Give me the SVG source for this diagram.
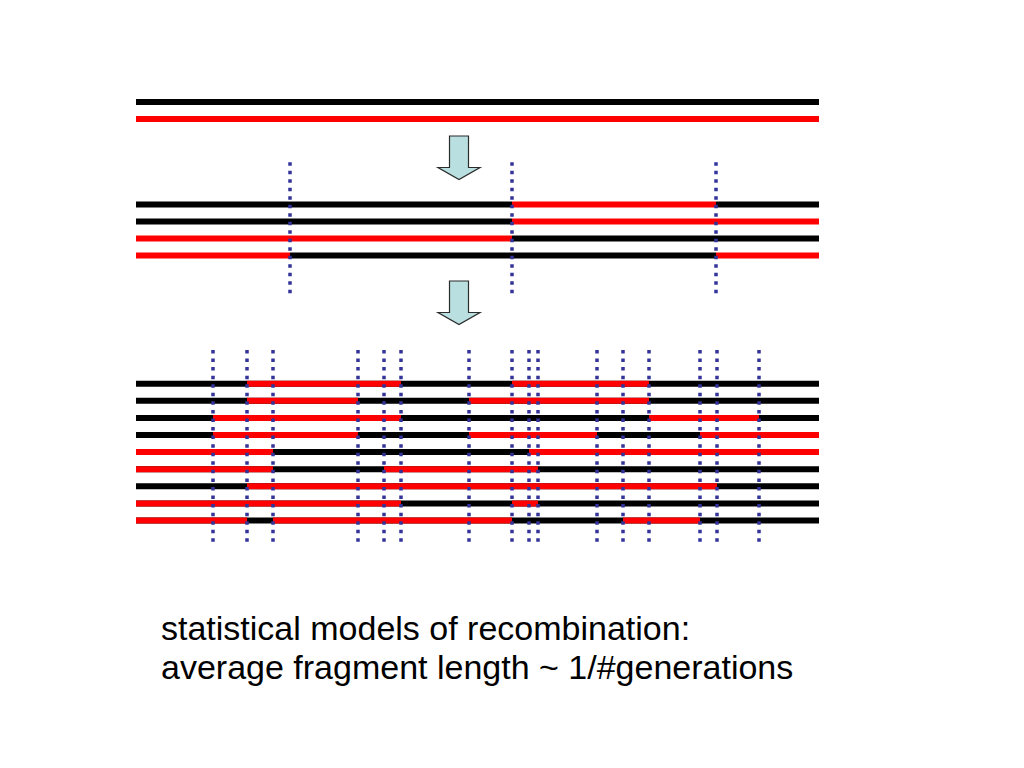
<svg xmlns="http://www.w3.org/2000/svg" width="1024" height="768" viewBox="0 0 1024 768">
<style>
.b{stroke:#000;stroke-width:6;fill:none}
.r{stroke:#f00;stroke-width:6;fill:none}
.d{stroke:#333399;stroke-width:3.5;stroke-dasharray:3.5 5;fill:none}
.d2{stroke:#333399;stroke-width:3.5;stroke-dasharray:3.5 5.06;fill:none}
.arrow{fill:#b9dfe0;stroke:#2b2b2b;stroke-width:1.2}
.t{font-family:"Liberation Sans",Arial,sans-serif;font-size:34px;fill:#000}
</style>
<rect width="1024" height="768" fill="#fff"/>
<g id="parents">
<path class="b" d="M136,102H819"/>
<path class="r" d="M136,119H819"/>
</g>
<g id="connectors">
<path id="arrow1" class="arrow" d="M449.5,136H468.5V167.5H480L459,179.5L438,167.5H449.5Z"/>
<path id="arrow2" class="arrow" d="M449.5,281H468.5V312.5H480L459,324.5L438,312.5H449.5Z"/>
</g>
<g id="generation1">
<path class="b" d="M136,204.5H512M716,204.5H819M136,221.5H512M512,238.5H819M290,255.5H716"/>
<path class="r" d="M512,204.5H716M512,221.5H819M136,238.5H512M136,255.5H290M716,255.5H819"/>
<path class="d" d="M290,162.3V294M512,162.3V294M716,162.3V294"/>
</g>
<g id="generationN">
<path class="b" d="M136,383.7H819M136,400.8H819M136,417.9H819M136,435H819M136,452.1H819M136,469.2H819M136,486.3H819M136,503.4H819M136,520.5H819"/>
<path class="r" d="M247,383.7H401M512,383.7H649
M247,400.8H358M469,400.8H649
M213,417.9H401M649,417.9H759
M213,435H358M469,435H597M700,435H819
M136,452.1H273M529,452.1H819
M136,469.2H273M384,469.2H538
M247,486.3H717
M136,503.4H401M512,503.4H538
M136,520.5H247M273,520.5H512M623,520.5H700"/>
<path class="d2" d="M213,350V542M247,350V542M273,350V542M358,350V542M384,350V542M401,350V542M469,350V542M512,350V542M529,350V542M538,350V542M597,350V542M623,350V542M649,350V542M700,350V542M717,350V542M759,350V542"/>
</g>
<g id="caption">
<text class="t" x="161" y="640">statistical models of recombination:</text>
<text class="t" x="161" y="679">average fragment length ~ 1/#generations</text>
</g>
</svg>
